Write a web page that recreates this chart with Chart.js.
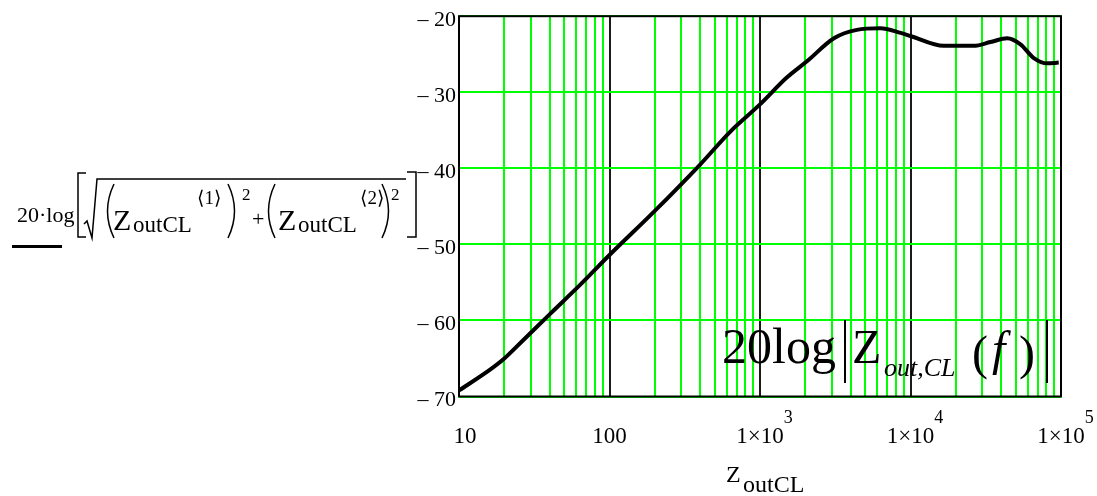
<!DOCTYPE html>
<html>
<head>
<meta charset="utf-8">
<script src="https://cdn.jsdelivr.net/npm/chart.js@4.4.1/dist/chart.umd.min.js"></script>
<style>
  html, body { margin: 0; padding: 0; background: #fff; }
</style>
</head>
<body>
<canvas id="c" width="1097" height="496"></canvas>
<script>
// frequency (Hz) and magnitude (dB)
const freqHz = [10, 16, 20, 27, 40, 64, 100, 200, 400, 640, 1000, 1500, 2060, 3100, 4400, 6300, 8600, 10000, 16600, 26300, 34000, 43900, 53800, 66000, 81000, 96600];
const magDb = [-69.2, -66.5, -65.0, -62.5, -59.2, -55.3, -51.4, -45.6, -39.5, -35.1, -31.6, -28.1, -25.9, -22.9, -21.8, -21.6, -22.2, -22.6, -23.9, -23.9, -23.4, -22.9, -23.7, -25.5, -26.2, -26.1];

const yTicks = [-70, -60, -50, -40, -30, -20];
const xDecades = [10, 100, 1000, 10000, 100000];
const xTickBase = ['10', '100', '1\u00d710', '1\u00d710', '1\u00d710'];
const xTickExp = ['', '', '3', '4', '5'];

const SERIF = '"Liberation Serif", "DejaVu Serif", serif';

// grid positions 1..9 x each decade
const gridTicks = [];
for (let d = 10; d < 100000; d *= 10) {
  for (let k = 1; k < 10; k++) gridTicks.push(d * k);
}
gridTicks.push(100000);

const isDecade = v => Math.abs(Math.log10(v) - Math.round(Math.log10(v))) < 1e-9;

function txt(ctx, s, x, y, size, style) {
  ctx.font = (style || '') + ' ' + size + 'px ' + SERIF;
  ctx.fillText(s, x, y);
  return x + ctx.measureText(s).width;
}

function paren(ctx, x, top, bottom, left) {
  const mid = (top + bottom) / 2;
  ctx.beginPath();
  if (left) {
    ctx.moveTo(x + 9, top);
    ctx.quadraticCurveTo(x - 4, mid, x + 9, bottom);
  } else {
    ctx.moveTo(x, top);
    ctx.quadraticCurveTo(x + 13, mid, x, bottom);
  }
  ctx.stroke();
}

const decor = {
  id: 'decor',
  beforeDatasetsDraw(chart) {
    const { ctx, chartArea: a } = chart;
    ctx.save();
    ctx.strokeStyle = '#000';
    ctx.lineWidth = 2;
    ctx.strokeRect(a.left, a.top, a.right - a.left, a.bottom - a.top);
    ctx.restore();
  },
  afterDraw(chart) {
    const { ctx } = chart;
    const xs = chart.scales.x;
    ctx.save();
    ctx.fillStyle = '#000';
    ctx.strokeStyle = '#000';
    ctx.textBaseline = 'alphabetic';
    ctx.textAlign = 'left';

    // x tick labels with superscript exponents
    xDecades.forEach((v, i) => {
      let px = xs.getPixelForValue(v);
      if (i === 0) px += 6;
      ctx.font = '23px ' + SERIF;
      const w = ctx.measureText(xTickBase[i]).width;
      const end = txt(ctx, xTickBase[i], px - w / 2, 443, 23);
      if (xTickExp[i]) txt(ctx, xTickExp[i], end, 423, 18);
    });

    // x axis title
    txt(ctx, 'Z', 726, 482, 24);
    txt(ctx, 'outCL', 743, 492, 24);

    // y axis formula (left)
    txt(ctx, '20\u00b7log', 17, 222, 22);
    ctx.lineWidth = 1.5;
    ctx.beginPath();
    ctx.moveTo(86, 173); ctx.lineTo(78, 173); ctx.lineTo(78, 237); ctx.lineTo(86, 237);
    ctx.stroke();
    ctx.beginPath();
    ctx.moveTo(84, 224); ctx.lineTo(87, 221); ctx.lineTo(92, 238); ctx.lineTo(97, 179); ctx.lineTo(406, 179);
    ctx.stroke();
    paren(ctx, 105, 184, 238, true);
    txt(ctx, 'Z', 113, 230, 30);
    txt(ctx, 'outCL', 133, 232, 23);
    txt(ctx, '\u27e81\u27e9', 197, 204, 19);
    paren(ctx, 228, 184, 238, false);
    txt(ctx, '2', 242, 200, 17);
    txt(ctx, '+', 252, 226, 22);
    paren(ctx, 266, 184, 238, true);
    txt(ctx, 'Z', 278, 230, 30);
    txt(ctx, 'outCL', 298, 232, 23);
    txt(ctx, '\u27e82\u27e9', 360, 204, 19);
    paren(ctx, 382, 184, 238, false);
    txt(ctx, '2', 391, 200, 17);
    ctx.beginPath();
    ctx.moveTo(407, 172); ctx.lineTo(416, 172); ctx.lineTo(416, 237); ctx.lineTo(407, 237);
    ctx.stroke();
    ctx.fillRect(12, 245, 50, 3);

    // annotation inside the plot
    txt(ctx, '20log', 722, 363, 50);
    txt(ctx, 'Z', 852, 363, 48);
    txt(ctx, 'out,CL', 884, 376, 26, 'italic');
    txt(ctx, '(', 972, 369, 48);
    txt(ctx, 'f', 992, 365, 48, 'italic');
    txt(ctx, ')', 1019, 369, 48);
    ctx.lineWidth = 2;
    ctx.beginPath();
    ctx.moveTo(845, 320); ctx.lineTo(845, 383);
    ctx.moveTo(1047, 320); ctx.lineTo(1047, 383);
    ctx.stroke();
    ctx.restore();
  }
};

new Chart(document.getElementById('c'), {
  type: 'line',
  data: {
    datasets: [{
      data: freqHz.map((f, i) => ({ x: f, y: magDb[i] })),
      borderColor: '#000',
      borderWidth: 4,
      pointRadius: 0,
      cubicInterpolationMode: 'monotone',
      fill: false
    }]
  },
  options: {
    responsive: false,
    animation: false,
    layout: { padding: { left: 0, right: 36, top: 13, bottom: 0 } },
    plugins: { legend: { display: false }, tooltip: { enabled: false } },
    scales: {
      x: {
        type: 'logarithmic',
        min: 10,
        max: 100000,
        afterBuildTicks: s => { s.ticks = gridTicks.map(v => ({ value: v })); },
        afterFit: s => { s.height = 99.5; },
        grid: {
          color: c => isDecade(c.tick.value) ? '#1a1a1a' : '#00ff00',
          lineWidth: 2,
          drawTicks: false
        },
        border: { display: false },
        ticks: { display: false, autoSkip: false }
      },
      y: {
        min: -70,
        max: -20,
        afterBuildTicks: s => { s.ticks = yTicks.map(v => ({ value: v })); },
        afterFit: s => { s.width = 459; },
        grid: { color: '#00ff00', lineWidth: 2, drawTicks: false },
        border: { display: false },
        ticks: {
          color: '#000',
          font: { family: 'Liberation Serif', size: 22 },
          padding: 3,
          labelOffset: 4,
          callback: v => '\u2013 ' + Math.abs(v)
        }
      }
    }
  },
  plugins: [decor]
});
</script>
</body>
</html>
